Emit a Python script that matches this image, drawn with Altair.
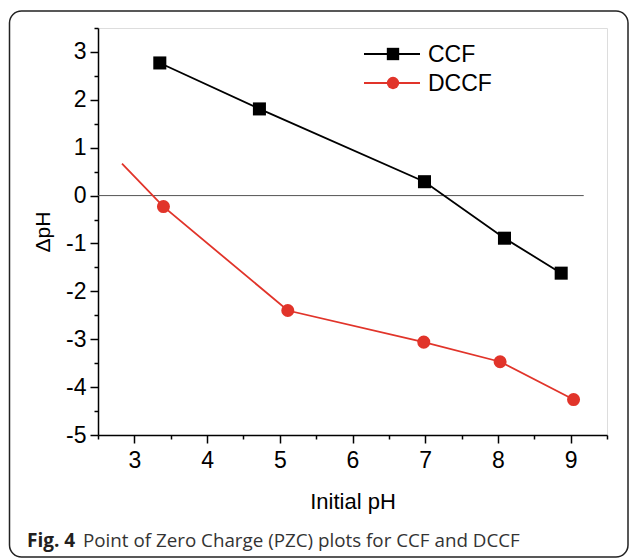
import altair as alt
import pandas as pd

# ---- data ----
ccf_x = [3.35, 4.72, 6.99, 8.09, 8.87]
ccf_y = [2.77, 1.81, 0.29, -0.89, -1.62]
dccf_x = [2.83, 3.40, 5.11, 6.98, 8.03, 9.04]
dccf_y = [0.67, -0.23, -2.40, -3.06, -3.47, -4.26]
dccf_marker = [False, True, True, True, True, True]

series_names = ["CCF", "DCCF"]
series_colors = ["#000000", "#e1342a"]
series_shapes = ["square", "circle"]
series_sizes = [170, 170]

zero_x = [2.5, 9.18]
zero_y = [0, 0]

x_major = [3, 4, 5, 6, 7, 8, 9]
x_minor = [2.5, 3.5, 4.5, 5.5, 6.5, 7.5, 8.5, 9.5]
y_major = [-5, -4, -3, -2, -1, 0, 1, 2, 3]
y_minor = [-4.5, -3.5, -2.5, -1.5, -0.5, 0.5, 1.5, 2.5, 3.5]

x_title = "Initial pH"
y_title = "ΔpH"
caption_bold = "Fig. 4"
caption_text = "Point of Zero Charge (PZC) plots for CCF and DCCF"

# ---- tables ----
ccf = pd.DataFrame({"x": ccf_x, "y": ccf_y})
dccf = pd.DataFrame({"x": dccf_x, "y": dccf_y, "marker": dccf_marker})
dccf_pts = dccf[dccf["marker"]]
zero = pd.DataFrame({"x": zero_x, "y": zero_y})
one = pd.DataFrame({"a": [0]})

W, H = 509, 407
FONT = "Liberation Sans"
lab_expr = "'' + datum.value"

xs = alt.Scale(domain=[2.5, 9.5], nice=False, zero=False)
ys = alt.Scale(domain=[-5, 3.5], nice=False, zero=False)

x_major_axis = alt.Axis(
    orient="bottom", values=x_major, labelExpr=lab_expr, tickSize=8, grid=False,
    title=x_title, titleFontSize=22, titleFont=FONT, titleFontWeight="normal",
    titleColor="#000", titlePadding=19,
    labelFontSize=23, labelFont=FONT, labelColor="#000", labelPadding=6,
    labelFlush=False, labelOverlap=False,
    domainColor="#000", domainWidth=1.5, tickColor="#000", tickWidth=1.5)
y_major_axis = alt.Axis(
    orient="left", values=y_major, labelExpr=lab_expr, tickSize=8, grid=False,
    title=y_title, titleFontSize=21, titleFont=FONT, titleFontWeight="normal",
    titleColor="#000", titlePadding=12,
    labelFontSize=23, labelFont=FONT, labelColor="#000", labelPadding=4,
    labelFlush=False, labelOverlap=False,
    domainColor="#000", domainWidth=1.5, tickColor="#000", tickWidth=1.5)
x_minor_axis = alt.Axis(orient="bottom", values=x_minor, labels=False, tickSize=4,
                        grid=False, title="", domain=False, tickColor="#000", tickWidth=1.5)
y_minor_axis = alt.Axis(orient="left", values=y_minor, labels=False, tickSize=4,
                        grid=False, title="", domain=False, tickColor="#000", tickWidth=1.5)

zero_line = alt.Chart(zero).mark_line(color="#555555", strokeWidth=1).encode(
    x=alt.X("x:Q", scale=xs, axis=x_minor_axis), y=alt.Y("y:Q", scale=ys, axis=y_minor_axis))

ccf_line = alt.Chart(ccf).mark_line(color=series_colors[0], strokeWidth=1.8).encode(
    x=alt.X("x:Q", scale=xs, axis=x_major_axis), y=alt.Y("y:Q", scale=ys, axis=y_major_axis))
ccf_point = alt.Chart(ccf).mark_point(filled=True, opacity=1, shape=series_shapes[0],
                                      size=series_sizes[0], color=series_colors[0]).encode(
    x=alt.X("x:Q", scale=xs, axis=None), y=alt.Y("y:Q", scale=ys, axis=None))
dccf_line = alt.Chart(dccf).mark_line(color=series_colors[1], strokeWidth=1.8).encode(
    x=alt.X("x:Q", scale=xs, axis=None), y=alt.Y("y:Q", scale=ys, axis=None))
dccf_point = alt.Chart(dccf_pts).mark_point(filled=True, opacity=1, shape=series_shapes[1],
                                            size=series_sizes[1], color=series_colors[1]).encode(
    x=alt.X("x:Q", scale=xs, axis=None), y=alt.Y("y:Q", scale=ys, axis=None))

layers = [zero_line, ccf_line, dccf_line, ccf_point, dccf_point]

# ---- legend (drawn by hand, top right) ----
for i, name in enumerate(series_names):
    ly = 26 + 29 * i
    layers.append(alt.Chart(one).mark_rule(color=series_colors[i], strokeWidth=1.8).encode(
        x=alt.value(266), x2=alt.value(322), y=alt.value(ly)))
    layers.append(alt.Chart(one).mark_point(filled=True, opacity=1, shape=series_shapes[i],
                                            size=series_sizes[i] * 0.9, color=series_colors[i]).encode(
        x=alt.value(295), y=alt.value(ly)))
    layers.append(alt.Chart(one).mark_text(align="left", baseline="middle", fontSize=23,
                                           font=FONT, color="#000").encode(
        x=alt.value(330), y=alt.value(ly + 1), text=alt.value(name)))

# ---- caption and frame ----
layers.append(alt.Chart(one).mark_text(align="left", baseline="alphabetic", fontSize=19,
                                       font="Open Sans", fontWeight="bold", color="#231f20").encode(
    x=alt.value(-71), y=alt.value(519), text=alt.value(caption_bold)))
layers.append(alt.Chart(one).mark_text(align="left", baseline="alphabetic", fontSize=18.8,
                                       font="Open Sans", color="#333333").encode(
    x=alt.value(-15), y=alt.value(519), text=alt.value(caption_text)))
layers.append(alt.Chart(one).mark_rect(fillOpacity=0, stroke="#222222", strokeWidth=1.5,
                                       cornerRadius=12).encode(
    x=alt.value(-88.5), x2=alt.value(530), y=alt.value(-17), y2=alt.value(529)))

chart = alt.layer(*layers).resolve_axis(x="independent", y="independent").properties(
    width=W, height=H,
    autosize=alt.AutoSizeParams(type="none"),
    padding={"left": 98, "top": 28, "right": 23, "bottom": 124},
).configure_view(stroke=None).configure(background="white")

chart.save("out.html", embed_options={"renderer": "svg", "actions": False})
